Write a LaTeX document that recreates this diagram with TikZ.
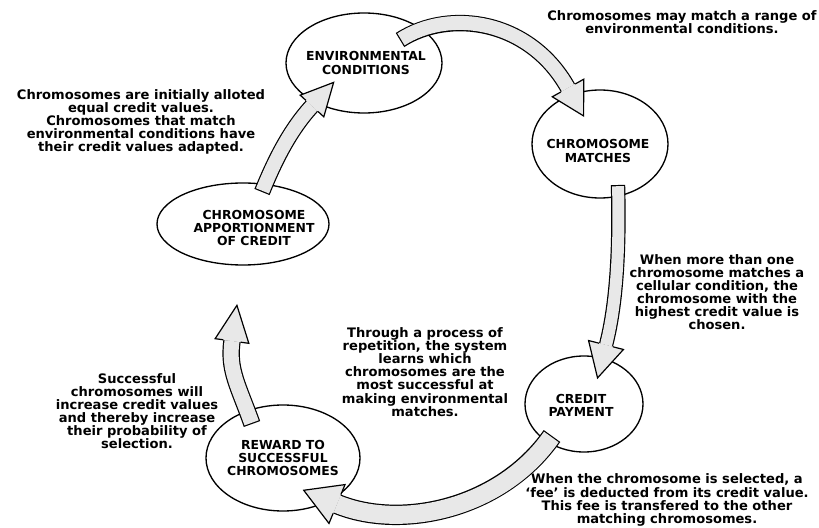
\documentclass[tikz,border=0pt]{standalone}
\usepackage{fontspec}
\setmainfont{DejaVu Sans}
\usetikzlibrary{shapes.geometric,calc}
\definecolor{shaftgray}{RGB}{232,232,232}
% #1 tail, #2 ctrl1, #3 ctrl2, #4 end (head base), #5 shaft width, #6 head half width, #7 head length (px)
\newcommand\blockarrow[7]{%
  \draw[line width=#5*0.75pt+1.8pt] (#1) .. controls (#2) and (#3) .. (#4);
  \draw[line width=#5*0.75pt, shaftgray, shorten <=0.9pt] (#1) .. controls (#2) and (#3) .. (#4);
  \fill[shaftgray] ($(#4)!#6*0.75pt!90:(#3)$) -- ($(#4)!-#7*0.75pt!(#3)$) -- ($(#4)!#6*0.75pt!-90:(#3)$) -- cycle;
  \draw[line width=0.9pt, line join=miter]
     ($(#4)!#5*0.375pt+0.9pt!90:(#3)$) -- ($(#4)!#6*0.75pt!90:(#3)$) -- ($(#4)!-#7*0.75pt!(#3)$)
     -- ($(#4)!#6*0.75pt!-90:(#3)$) -- ($(#4)!#5*0.375pt+0.9pt!-90:(#3)$);
}
\begin{document}
\begin{tikzpicture}[x=0.75pt,y=-0.75pt,
  ell/.style={draw, ellipse, line width=1pt, inner sep=0pt},
  elabel/.style={font=\bfseries\fontsize{9.3}{9.8}\selectfont, align=center, inner sep=0pt},
  note/.style={font=\bfseries\fontsize{9.8}{9.8}\selectfont, align=center, inner sep=0pt}]
\useasboundingbox (0,0) rectangle (819,528);
\fill[white] (0,0) rectangle (819,528);

% ellipses
\node[ell, minimum width=117pt, minimum height=75pt] (env) at (364,63) {};
\node[ell, minimum width=102pt, minimum height=81pt] (match) at (600,144) {};
\node[ell, minimum width=88.5pt, minimum height=72pt] (pay) at (584,404) {};
\node[ell, minimum width=115.5pt, minimum height=79.5pt] (rew) at (283,458) {};
\node[ell, minimum width=129pt, minimum height=61.5pt] (app) at (243,224) {};

% ellipse captions
\node[elabel] (envt) at (366,63) {ENVIRONMENTAL\\CONDITIONS};
\node[elabel] (matcht) at (598,151) {CHROMOSOME\\MATCHES};
\node[elabel] (payt) at (581,405) {CREDIT\\PAYMENT};
\node[elabel] (rewt) at (283,458) {REWARD TO\\SUCCESSFUL\\CHROMOSOMES};
\node[elabel] (appt) at (254,228) {CHROMOSOME\\APPORTIONMENT\\OF CREDIT};

% block arrows
\blockarrow{400,40}{450,8}{530,20}{568,88}{14}{18}{32}
\blockarrow{618,185}{620,260}{615,310}{606,345}{12}{18}{34}
\blockarrow{552,436}{500,510}{400,530}{337,504}{18}{21}{36}
\blockarrow{252,424}{238,385}{228,370}{232,341}{15}{17}{36}
\blockarrow{262,192}{275,160}{290,130}{312,106}{14}{16}{32}

% notes
\node[note] (n1) at (682,22) {Chromosomes may match a range of\\environmental conditions.};
\node[note] (n2) at (141,122) {Chromosomes are initially alloted\\equal credit values.\\Chromosomes that match\\environmental conditions have\\their credit values adapted.};
\node[note] (n3) at (717,292) {When more than one\\chromosome matches a\\cellular condition, the\\chromosome with the\\highest credit value is\\chosen.};
\node[note] (n4) at (425,372) {Through a process of\\repetition, the system\\learns which\\chromosomes are the\\most successful at\\making environmental\\matches.};
\node[note] (n5) at (137,411) {Successful\\chromosomes will\\increase credit values\\and thereby increase\\their probability of\\selection.};
\node[note] (n6) at (667,500) {When the chromosome is selected, a\\`fee' is deducted from its credit value.\\This fee is transfered to the other\\matching chromosomes.};
\end{tikzpicture}
\end{document}
